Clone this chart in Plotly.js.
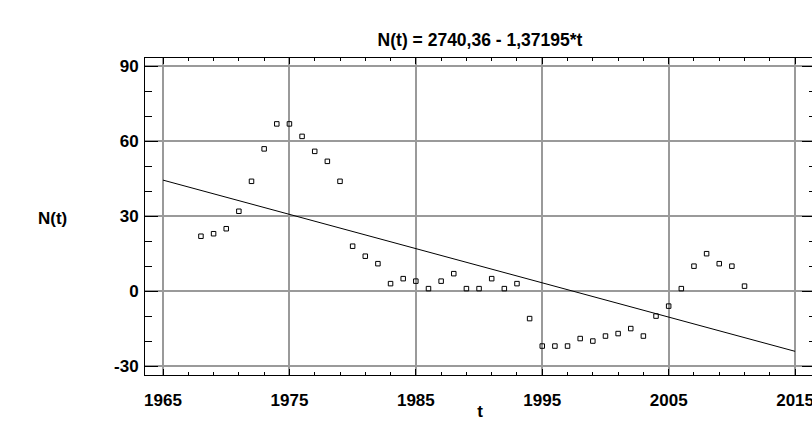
<!DOCTYPE html>
<html>
<head>
<meta charset="utf-8">
<script src="https://cdn.plot.ly/plotly-3.0.1.min.js"></script>
<style>
html,body{margin:0;padding:0;overflow:hidden;background:#fff;}
#chart{width:830px;height:421px;}
</style>
</head>
<body>
<div id="chart"></div>
<script>
// Observed data (year, N)
const years = [1968,1969,1970,1971,1972,1973,1974,1975,1976,1977,1978,1979,
  1980,1981,1982,1983,1984,1985,1986,1987,1988,1989,1990,1991,1992,1993,1994,
  1995,1996,1997,1998,1999,2000,2001,2002,2003,2004,2005,2006,2007,2008,2009,2010,2011];
const values = [22,23,25,32,44,57,67,67,62,56,52,44,
  18,14,11,3,5,4,1,4,7,1,1,5,1,3,-11,
  -22,-22,-22,-19,-20,-18,-17,-15,-18,-10,-6,1,10,15,11,10,2];
// Fitted line end points: N(t) = 2740,36 - 1,37195*t
const fitX = [1965, 2015];
const fitY = [44.48, -24.12];
const titleText = 'N(t) = 2740,36 - 1,37195*t';
const xTickVals = [1965,1975,1985,1995,2005,2015];
const yTickVals = [-30,0,30,60,90];

const font = 'Liberation Sans, Arial, sans-serif';
const traces = [
  {x: fitX, y: fitY, type: 'scatter', mode: 'lines',
   line: {color: '#000', width: 1}, hoverinfo: 'skip', showlegend: false},
  {x: years, y: values, type: 'scatter', mode: 'markers',
   marker: {symbol: 'square-open', size: 4.5, color: '#000', line: {color: '#000', width: 1}},
   showlegend: false}
];
const axisCommon = {
  showline: true, linecolor: '#000', linewidth: 1, mirror: 'ticks',
  ticks: 'inside', tickcolor: '#000', tickwidth: 1,
  showgrid: true, gridcolor: '#9a9a9a', gridwidth: 2, zeroline: false,
  tickfont: {family: font, size: 17, color: '#000', weight: 'bold'}
};
const layout = {
  width: 830, height: 421,
  margin: {l: 145.3, r: 15.3, t: 57.5, b: 46},
  paper_bgcolor: '#fff', plot_bgcolor: '#fff',
  title: {text: titleText, x: 0.5, xref: 'paper', y: 1 - 40/421, yanchor: 'middle',
          font: {family: font, size: 17.5, color: '#000', weight: 'bold'}},
  xaxis: Object.assign({}, axisCommon, {
    range: [1963.575, 2016.575], tickmode: 'array', tickvals: xTickVals,
    ticktext: xTickVals.map(String), ticklen: 6, ticklabelstandoff: 10,
    minor: {dtick: 2, tick0: 1965, ticks: 'inside', ticklen: 3, tickcolor: '#000', tickwidth: 1, showgrid: false},
    title: {text: 't', standoff: 6, font: {family: font, size: 17, color: '#000', weight: 'bold'}}
  }),
  yaxis: Object.assign({}, axisCommon, {
    range: [-33.6, 93.4], tickmode: 'array', tickvals: yTickVals,
    ticktext: yTickVals.map(String), ticklen: 13, ticklabelstandoff: 2,
    minor: {dtick: 10, tick0: 0, ticks: 'inside', ticklen: 6.5, tickcolor: '#000', tickwidth: 1, showgrid: false}
  }),
  annotations: [
    {text: 'N(t)', xref: 'paper', yref: 'paper', x: -(145.3-53)/669.4, y: (375-218)/317.5,
     xanchor: 'center', yanchor: 'middle', showarrow: false,
     font: {family: font, size: 17, color: '#000', weight: 'bold'}}
  ]
};
Plotly.newPlot('chart', traces, layout, {displayModeBar: false, staticPlot: true});
</script>
</body>
</html>
